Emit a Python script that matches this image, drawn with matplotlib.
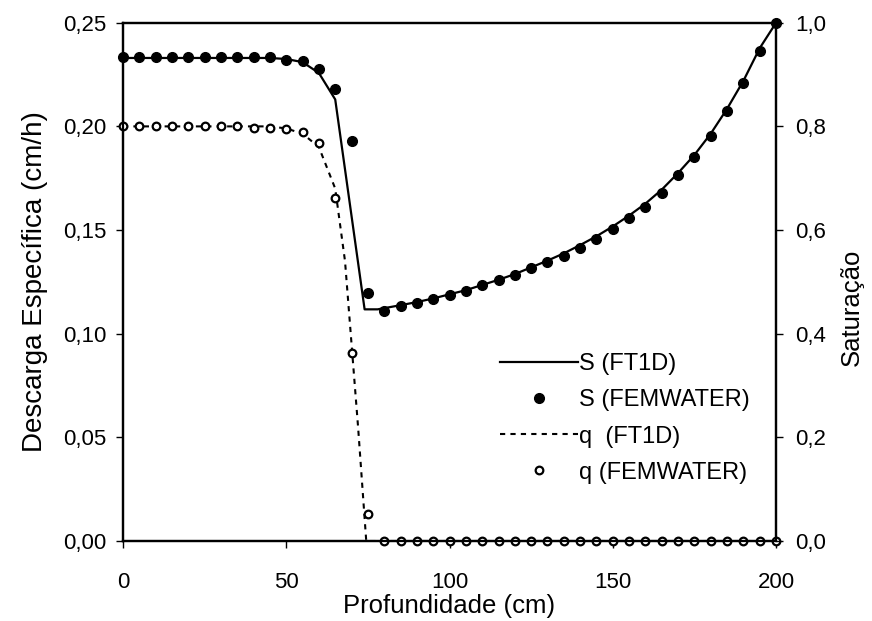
import numpy as np
import matplotlib
matplotlib.use("Agg")
import matplotlib.pyplot as plt
from matplotlib.ticker import FuncFormatter, MultipleLocator

plt.rcParams['font.family'] = ['Liberation Sans', 'DejaVu Sans']

# FEMWATER points every 5 cm
x_fem = list(range(0, 205, 5))
s_fem = [0.934] * 10 + [0.929, 0.927, 0.911, 0.872, 0.771, 0.478, 0.443, 0.454, 0.460, 0.467,
                        0.474, 0.482, 0.494, 0.503, 0.514, 0.527, 0.539, 0.550, 0.566, 0.582,
                        0.602, 0.623, 0.645, 0.672, 0.706, 0.740, 0.782, 0.830, 0.883, 0.946,
                        1.0]
q_fem = [0.200] * 8 + [0.1992, 0.1992, 0.1987, 0.1971, 0.1922, 0.1654, 0.0909, 0.0129] + [0.0] * 25

# FT1D curves
x_s_line = [0, 45, 50, 55, 60, 65, 74, 78, 85, 90, 95, 100, 105, 110, 115, 120, 125, 130,
            135, 140, 145, 150, 155, 160, 165, 170, 175, 180, 185, 190, 195, 200]
s_line = [0.932, 0.932, 0.930, 0.924, 0.903, 0.852, 0.447, 0.447, 0.455, 0.461, 0.468,
          0.476, 0.484, 0.494, 0.504, 0.515, 0.528, 0.541, 0.555, 0.571, 0.588, 0.607,
          0.628, 0.651, 0.678, 0.710, 0.745, 0.786, 0.834, 0.888, 0.951, 1.0]
x_q_line = [0, 45, 50, 55, 60, 65, 68, 70, 72, 74.5, 200]
q_line = [0.200, 0.200, 0.199, 0.1965, 0.190, 0.170, 0.135, 0.095, 0.055, 0.0, 0.0]

fig = plt.figure(figsize=(8.72, 6.21), dpi=100)
ax = fig.add_axes([0.141, 0.1288, 0.749, 0.8346])
ax2 = ax.twinx()

l_q, = ax.plot(x_q_line, q_line, color='black', lw=1.5, dashes=(2.5, 2.5))
m_q, = ax.plot(x_fem, q_fem, 'o', ms=5.5, mfc='white', mec='black', mew=1.6,
               linestyle='none', clip_on=False, zorder=5)
l_s, = ax2.plot(x_s_line, s_line, color='black', lw=1.6)
m_s, = ax2.plot(x_fem, s_fem, 'o', ms=7, color='black', linestyle='none', clip_on=False)

ax.set_xlim(0, 200)
ax.set_ylim(0, 0.25)
ax2.set_ylim(0, 1.0)
ax.xaxis.set_major_locator(MultipleLocator(50))
ax.yaxis.set_major_locator(MultipleLocator(0.05))
ax2.yaxis.set_major_locator(MultipleLocator(0.2))

ax.yaxis.set_major_formatter(FuncFormatter(lambda v, p: f"{v:.2f}".replace('.', ',')))
ax2.yaxis.set_major_formatter(FuncFormatter(lambda v, p: f"{v:.1f}".replace('.', ',')))

for a in (ax, ax2):
    for s in a.spines.values():
        s.set_linewidth(1.6)
ax.tick_params(axis='y', direction='out', labelsize=16, width=1, length=5, pad=7)
ax2.tick_params(axis='y', direction='out', labelsize=16, width=1, length=5, pad=9)
ax.tick_params(axis='x', direction='out', labelsize=16, width=1, length=5, pad=17)

ax.set_xlabel('Profundidade (cm)', fontsize=18.5, labelpad=1)
ax.set_ylabel('Descarga Específica (cm/h)', fontsize=20, labelpad=11)
ax2.set_ylabel('Saturação', fontsize=18.5, labelpad=12)
ax2.yaxis.set_label_coords(1.097, 0.45)

leg = ax.legend([l_s, m_s, l_q, m_q],
                ['S (FT1D)', 'S (FEMWATER)', 'q  (FT1D)', 'q (FEMWATER)'],
                loc='center left', bbox_to_anchor=(0.577, 0.2365), frameon=False,
                fontsize=17, handlelength=3.3, handletextpad=0.05, labelspacing=0.6,
                borderpad=0, borderaxespad=0)

fig.savefig('out.png', dpi=100)
